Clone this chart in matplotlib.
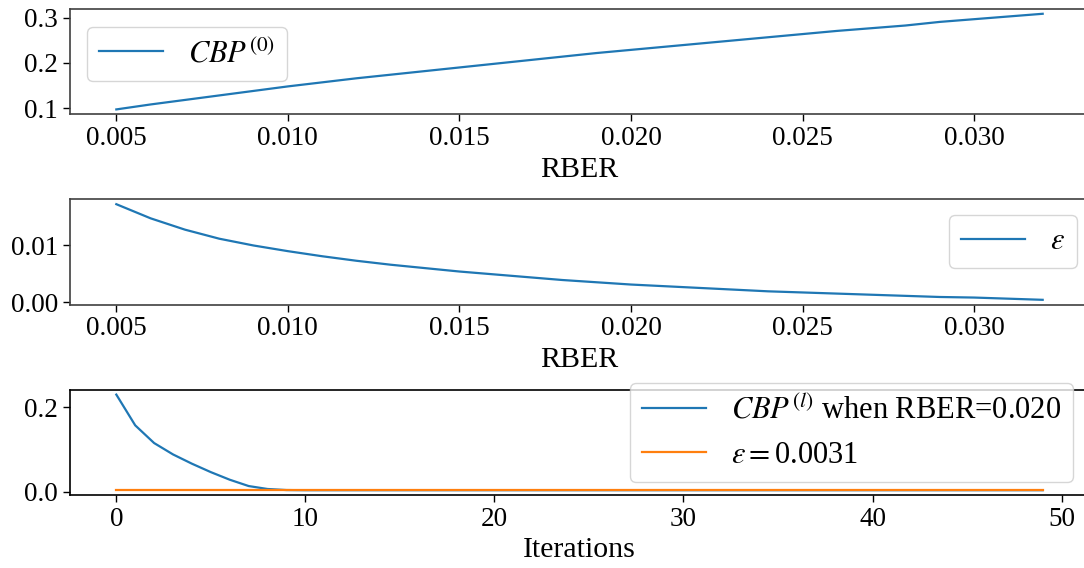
import numpy as np
import matplotlib
matplotlib.use("Agg")
import matplotlib.pyplot as plt

plt.rcParams['font.family'] = ['Liberation Serif', 'DejaVu Serif']
plt.rcParams['mathtext.fontset'] = 'stix'

# RBER sweep
rber = [0.005, 0.006, 0.007, 0.008, 0.009, 0.010, 0.011, 0.012, 0.013, 0.014,
        0.015, 0.016, 0.017, 0.018, 0.019, 0.020, 0.021, 0.022, 0.023, 0.024,
        0.025, 0.026, 0.027, 0.028, 0.029, 0.030, 0.031, 0.032]
cbp0 = [0.097, 0.108, 0.118, 0.128, 0.138, 0.148, 0.157, 0.166, 0.174, 0.182,
        0.190, 0.198, 0.206, 0.214, 0.222, 0.229, 0.236, 0.243, 0.250, 0.257,
        0.264, 0.271, 0.277, 0.283, 0.291, 0.297, 0.303, 0.309]
eps = [0.0173, 0.0148, 0.0128, 0.0112, 0.0100, 0.0090, 0.0081, 0.0073, 0.0066, 0.0060,
       0.0054, 0.0049, 0.0044, 0.0039, 0.0035, 0.0031, 0.0028, 0.0025, 0.0022, 0.0019,
       0.0017, 0.0015, 0.0013, 0.0011, 0.0009, 0.0008, 0.0006, 0.0004]

# iterations at RBER = 0.020
iters = list(range(50))
cbp_l = [0.230, 0.157, 0.115, 0.088, 0.066, 0.046, 0.028, 0.013, 0.006, 0.0035] + [0.0031] * 40
eps_020 = 0.0031

fig = plt.figure(figsize=(10.84, 5.68), dpi=100)
fig.subplots_adjust(left=70/1084, right=1089/1084, top=1 - 9/568, bottom=1 - 495/568, hspace=0.81)
ax1, ax2, ax3 = fig.subplots(3, 1)

tick_fs = 19.5
label_fs = 21.5
leg_kw = dict(fontsize=22, handlelength=2.1, handletextpad=0.8, borderaxespad=0,
              bbox_transform=fig.transFigure)

ax1.plot(rber, cbp0, color='C0', lw=1.6, label=r'$CBP^{(0)}$')
ax1.set_xlabel('RBER', fontsize=label_fs)
ax1.legend(loc='upper left', bbox_to_anchor=(87/1084, 1 - 27/568), **leg_kw)

ax2.plot(rber, eps, color='C0', lw=1.6, label=r'$\varepsilon$')
ax2.set_xlabel('RBER', fontsize=label_fs)
ax2.legend(loc='upper right', bbox_to_anchor=(1077/1084, 1 - 215/568), **leg_kw)

ax3.plot(iters, cbp_l, color='C0', lw=1.6, label=r'$CBP^{(l)}$ when RBER=0.020')
ax3.plot(iters, [eps_020] * len(iters), color='C1', lw=1.6,
         label=r'$\varepsilon=$' + f'{eps_020}')
ax3.set_xlabel('Iterations', fontsize=label_fs)
ax3.legend(loc='upper right', bbox_to_anchor=(1073/1084, 1 - 383/568), **leg_kw)

for ax, sc in ((ax1, '0.25'), (ax2, '0.25'), (ax3, 'black')):
    ax.tick_params(labelsize=tick_fs, width=1.0, length=5)
    for s in ax.spines.values():
        s.set_color(sc)
        s.set_linewidth(1.2)

fig.savefig('out.png', dpi=100)
